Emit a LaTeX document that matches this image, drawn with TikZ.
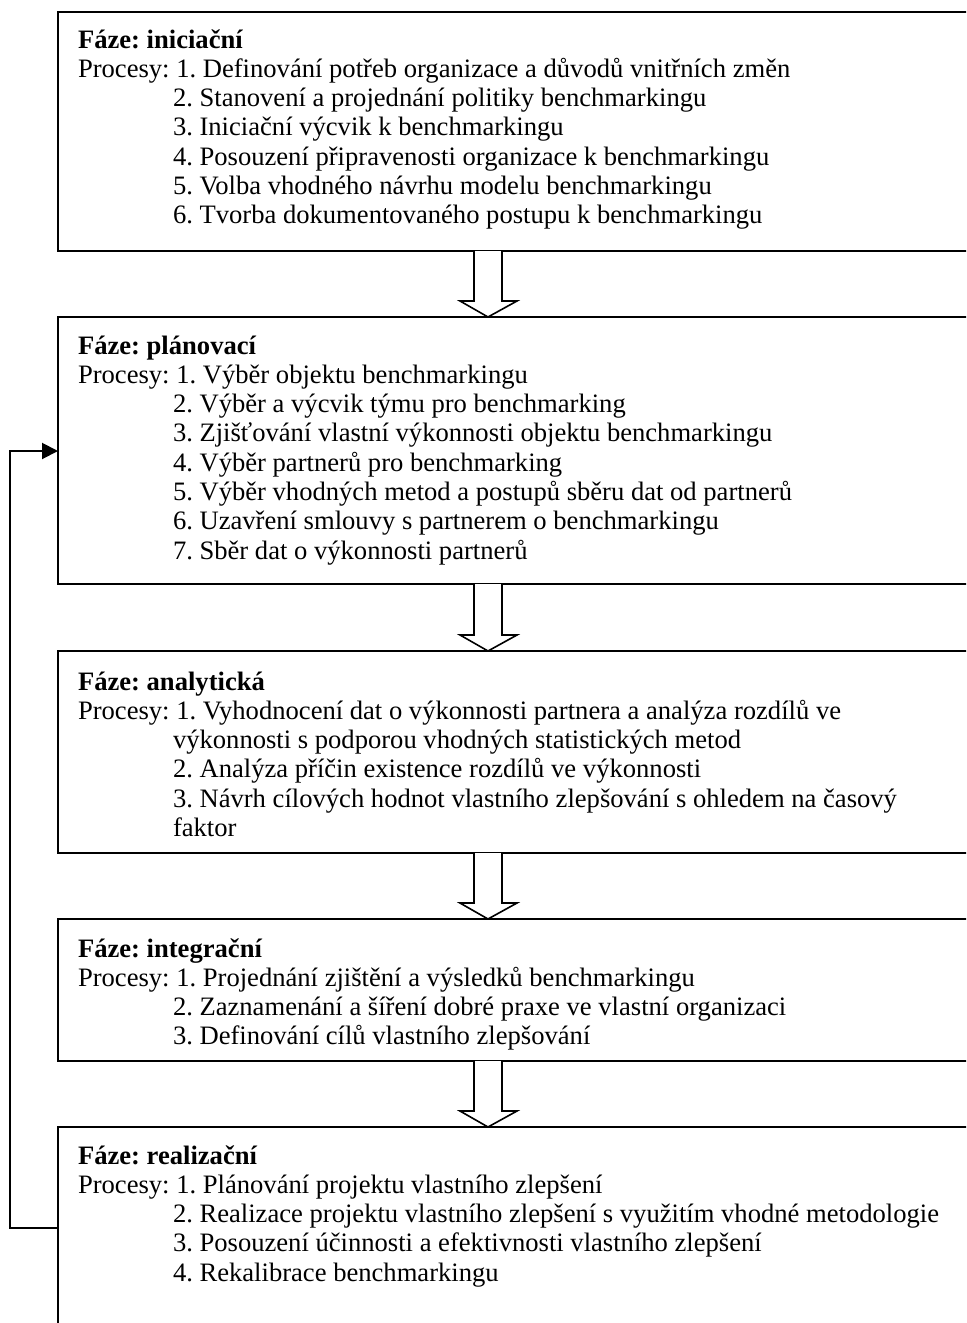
\documentclass[tikz,border=0pt]{standalone}
\usepackage{fontspec}
\setmainfont{Liberation Serif}
\usetikzlibrary{arrows.meta,calc}
\newcommand\ind{\hspace*{47.5pt}}
\frenchspacing
\begin{document}
\begin{tikzpicture}[x=0.5pt,y=-0.5pt,
  box/.style={draw,line width=1pt,anchor=north west,minimum width=471pt,inner sep=0pt,outer sep=0pt},
  txt/.style={anchor=base west,inner sep=0pt,outer sep=0pt,font=\fontsize{13.3pt}{14.65pt}\selectfont\frenchspacing},
  blockarrow/.style={draw,line width=0.8pt,fill=white,line join=miter},
  fb/.style={draw,line width=1pt,-{Triangle[length=8pt,width=8pt]}}]
\useasboundingbox (0,0) rectangle (966,1323);
\clip (0,0) rectangle (966,1323);
% boxes
\node[box,minimum height=119.5pt] (b1) at (58,12) {};
\node[box,minimum height=133.5pt] (b2) at (58,317) {};
\node[box,minimum height=101pt] (b3) at (58,651) {};
\node[box,minimum height=71pt] (b4) at (58,919) {};
\node[box,minimum height=140pt] (b5) at (58,1127) {};
% texts
\renewcommand\arraystretch{1}
\node[txt] (t1) at ($(b1.north west)+(20,36)$) {\begin{tabular}[t]{@{}l@{}}\textbf{Fáze: iniciační}\\
Procesy: 1. Definování potřeb organizace a důvodů vnitřních změn\\
\ind 2. Stanovení a projednání politiky benchmarkingu\\
\ind 3. Iniciační výcvik k benchmarkingu\\
\ind 4. Posouzení připravenosti organizace k benchmarkingu\\
\ind 5. Volba vhodného návrhu modelu benchmarkingu\\
\ind 6. Tvorba dokumentovaného postupu k benchmarkingu\end{tabular}};
\node[txt] (t2) at ($(b2.north west)+(20,37)$) {\begin{tabular}[t]{@{}l@{}}\textbf{Fáze: plánovací}\\
Procesy: 1. Výběr objektu benchmarkingu\\
\ind 2. Výběr a výcvik týmu pro benchmarking\\
\ind 3. Zjišťování vlastní výkonnosti objektu benchmarkingu\\
\ind 4. Výběr partnerů pro benchmarking\\
\ind 5. Výběr vhodných metod a postupů sběru dat od partnerů\\
\ind 6. Uzavření smlouvy s partnerem o benchmarkingu\\
\ind 7. Sběr dat o výkonnosti partnerů\end{tabular}};
\node[txt] (t3) at ($(b3.north west)+(20,39)$) {\begin{tabular}[t]{@{}l@{}}\textbf{Fáze: analytická}\\
Procesy: 1. Vyhodnocení dat o výkonnosti partnera a analýza rozdílů ve\\
\ind výkonnosti s podporou vhodných statistických metod\\
\ind 2. Analýza příčin existence rozdílů ve výkonnosti\\
\ind 3. Návrh cílových hodnot vlastního zlepšování s ohledem na časový\\
\ind faktor\end{tabular}};
\node[txt] (t4) at ($(b4.north west)+(20,38)$) {\begin{tabular}[t]{@{}l@{}}\textbf{Fáze: integrační}\\
Procesy: 1. Projednání zjištění a výsledků benchmarkingu\\
\ind 2. Zaznamenání a šíření dobré praxe ve vlastní organizaci\\
\ind 3. Definování cílů vlastního zlepšování\end{tabular}};
\node[txt] (t5) at ($(b5.north west)+(20,37)$) {\begin{tabular}[t]{@{}l@{}}\textbf{Fáze: realizační}\\
Procesy: 1. Plánování projektu vlastního zlepšení\\
\ind 2. Realizace projektu vlastního zlepšení s využitím vhodné metodologie\\
\ind 3. Posouzení účinnosti a efektivnosti vlastního zlepšení\\
\ind 4. Rekalibrace benchmarkingu\end{tabular}};
% block arrows between boxes
\foreach \a/\b in {b1/b2,b2/b3,b3/b4,b4/b5}{
  \path[blockarrow] ($(\a.south west)+(416,0)$) -- ($(\b.north west)+(416,-16)$)
    -- ($(\b.north west)+(402,-16)$) -- ($(\b.north west)+(430,0)$)
    -- ($(\b.north west)+(459,-16)$) -- ($(\b.north west)+(444,-16)$)
    -- ($(\a.south west)+(444,0)$);
}
% feedback loop
\coordinate (fbstart) at ($(b5.north west)+(0,101)$);
\coordinate (fbend) at ($(b2.north west)+(0,134)$);
\draw[fb] (fbstart) -- ++(-48,0) |- (fbend);
\end{tikzpicture}
\end{document}
